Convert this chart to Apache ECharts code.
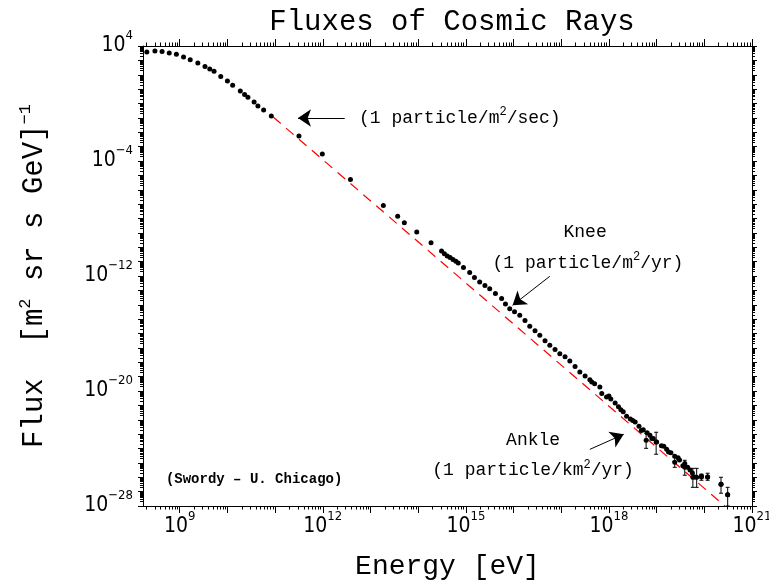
<!DOCTYPE html>
<html><head><meta charset="utf-8">
<script src="https://cdn.jsdelivr.net/npm/echarts@6/dist/echarts.min.js"></script>
<style>html,body{margin:0;padding:0;background:#fff}#c{width:769px;height:585px}</style>
</head><body><div id="c"></div>
<script>
// ---- data (log10 of energy in eV, log10 of flux in (m^2 sr s GeV)^-1) ----
const logEnergy = [8.31,8.48,8.63,8.78,8.93,9.08,9.22,9.38,9.53,9.63,9.72,9.86,10.00,10.11,10.27,10.36,10.43,10.56,10.64,10.76,10.92,
  11.50,11.99,12.58,13.27,13.57,13.71,13.97,14.27,
  14.49,14.55,14.61,14.67,14.73,14.79,14.84,14.95,15.08,15.18,15.29,15.40,15.50,15.62,15.75,15.83,15.92,16.02,16.13,16.24,16.34,16.45,16.55,16.66,16.76,16.87,16.97,17.08,17.18,17.29,17.39,17.50,17.60,17.64,17.70,17.81,17.85,17.95,18.04,18.13,18.25,18.37,18.45,18.55,18.63,18.72,18.80,18.86,18.93,19.00,19.10,19.21,19.30,19.38,19.48,19.59,19.70,19.80,19.94,20.07,20.35,20.49,
  18.00,18.20,18.30,18.50,18.68,18.90,19.15,19.25,19.45,19.55,19.65,19.75];
const logFlux = [3.58,3.65,3.61,3.51,3.42,3.24,3.05,2.82,2.57,2.40,2.24,1.87,1.57,1.27,0.87,0.62,0.43,0.10,-0.17,-0.45,-0.87,
  -2.26,-3.52,-5.29,-7.10,-7.85,-8.29,-8.94,-9.68,
  -10.26,-10.45,-10.61,-10.72,-10.86,-10.98,-11.10,-11.40,-11.76,-12.10,-12.42,-12.66,-12.88,-13.22,-13.57,-13.95,-14.27,-14.48,-14.73,-15.10,-15.50,-15.80,-16.13,-16.50,-16.82,-17.12,-17.40,-17.62,-17.91,-18.30,-18.68,-18.95,-19.21,-19.37,-19.50,-19.72,-20.18,-20.42,-20.55,-20.83,-21.30,-21.76,-21.95,-22.16,-22.45,-22.69,-22.90,-23.08,-23.30,-23.55,-23.80,-24.06,-24.30,-24.54,-24.80,-25.05,-25.50,-25.98,-25.91,-25.98,-26.49,-27.21,
  -20.35,-21.10,-21.45,-22.05,-22.75,-23.30,-23.85,-24.25,-24.65,-25.20,-25.30,-25.70];
const errEnergy = [18.78,18.99,19.38,19.59,19.76,19.84,19.94,20.07,20.35,20.49];
const errLow    = [-23.99,-24.40,-25.31,-25.86,-26.70,-26.70,-26.21,-26.21,-27.11,-28.0];
const errHigh   = [-22.94,-22.87,-24.61,-24.82,-25.38,-25.38,-25.79,-25.72,-26.00,-26.70];
const errMid    = [-23.43,-23.55,-24.96,-25.31,-26.00,-26.00,-25.98,-25.98,-26.49,-27.21];
const refLineEnergy = [10.96, 20.43];
const refLineFlux = [-0.94, -28.0];
const xLabelExps = [9, 12, 15, 18, 21];
const yLabelExps = [4, -4, -12, -20, -28];
const xRange = [8.23, 21];
const yRange = [-28, 4];

// ---- helpers ----
const SANS = "'Liberation Sans Narrow','DejaVu Sans Condensed','Liberation Sans',sans-serif";
const MONO = "'Liberation Mono','DejaVu Sans Mono',monospace";
function majors(r){const a=[];for(let n=Math.ceil(r[0]);n<=Math.floor(r[1]);n++)a.push(n);return a;}
function minors(r){const a=[];for(let n=Math.floor(r[0]);n<=Math.ceil(r[1]);n++){for(let k=2;k<=9;k++){const v=n+Math.log10(k);if(v>r[0]&&v<r[1])a.push(v);}}return a;}
const supTxt = v => v < 0 ? '\u2212' + (-v) : String(v);
const labelRich = {
  b:{fontFamily:SANS,fontSize:21,lineHeight:22,color:'#000',verticalAlign:'middle'},
  s:{fontFamily:SANS,fontSize:13,lineHeight:14,color:'#000',padding:[0,0,20,0],verticalAlign:'middle'}
};
function axisBase(extra){
  const o = Object.assign({type:'value',splitLine:{show:false},
    axisLabel:{show:false}, nameMoveOverlap:false}, extra);
  o.axisLine = Object.assign({show:true,onZero:false,lineStyle:{color:'#000',width:1}}, extra.axisLine||{});
  return o;
}
const xMaj = majors(xRange), xMin = minors(xRange), yMaj = majors(yRange), yMin = minors(yRange);
const tickStyle = {color:'#000',width:1};

const xAxes = [
  axisBase({gridIndex:0,position:'bottom',min:xRange[0],max:xRange[1],
    axisTick:{show:true,inside:false,length:7,customValues:xMaj,lineStyle:tickStyle},
    axisLabel:{show:true,customValues:xLabelExps,margin:10,formatter:v=>'{b|10}{s|'+supTxt(Math.round(v))+'}',rich:labelRich},
    name:'Energy [eV]',nameLocation:'middle',nameGap:47,
    nameTextStyle:{fontFamily:MONO,fontSize:28,color:'#000'}}),
  axisBase({gridIndex:0,position:'top',min:xRange[0],max:xRange[1],
    axisTick:{show:true,inside:false,length:7,customValues:xMaj,lineStyle:tickStyle}}),
  axisBase({gridIndex:1,position:'bottom',min:xRange[0],max:xRange[1],axisLine:{show:false},
    axisTick:{show:true,inside:false,length:3.5,customValues:xMin,lineStyle:tickStyle}}),
  axisBase({gridIndex:1,position:'top',min:xRange[0],max:xRange[1],axisLine:{show:false},
    axisTick:{show:true,inside:false,length:3.5,customValues:xMin,lineStyle:tickStyle}})
];
const yAxes = [
  axisBase({gridIndex:0,position:'left',min:yRange[0],max:yRange[1],
    axisTick:{show:true,inside:false,length:5,customValues:yMaj,lineStyle:tickStyle},
    axisLabel:{show:true,customValues:yLabelExps,margin:10,formatter:v=>'{b|10}{s|'+supTxt(Math.round(v))+'}',rich:labelRich},
    name:'{t|Flux  [m}{s|2}{t| sr s GeV]}{s|\u22121}',nameLocation:'middle',nameGap:94,
    nameTextStyle:{rich:{
      t:{fontFamily:MONO,fontSize:29,lineHeight:29,color:'#000',verticalAlign:'middle'},
      s:{fontFamily:MONO,fontSize:17,lineHeight:17,color:'#000',padding:[0,0,19,0],verticalAlign:'middle'}}}}),
  axisBase({gridIndex:0,position:'right',min:yRange[0],max:yRange[1],
    axisTick:{show:true,inside:false,length:5,customValues:yMaj,lineStyle:tickStyle}}),
  axisBase({gridIndex:1,position:'left',min:yRange[0],max:yRange[1],axisLine:{show:false},
    axisTick:{show:true,inside:false,length:3,customValues:yMin,lineStyle:tickStyle}}),
  axisBase({gridIndex:1,position:'right',min:yRange[0],max:yRange[1],axisLine:{show:false},
    axisTick:{show:true,inside:false,length:3,customValues:yMin,lineStyle:tickStyle}})
];

const points = logEnergy.map((e,i)=>[e,logFlux[i]]);
const errData = errEnergy.map((e,i)=>[e,errLow[i],errHigh[i],errMid[i]]);

const annRich = {
  t:{fontFamily:MONO,fontSize:18,lineHeight:18,color:'#000',verticalAlign:'middle'},
  s:{fontFamily:MONO,fontSize:12,lineHeight:12,color:'#000',padding:[0,0,12,0],verticalAlign:'middle'},
  w:{fontFamily:MONO,fontSize:14,fontWeight:'bold',color:'#000'}
};
const annotations = [
  {value:[12.76,-1.01],text:'{t|(1 particle/m}{s|2}{t|/sec)}',pos:'right'},
  {value:[17.50,-8.96],text:'{t|Knee}',pos:'inside'},
  {value:[17.56,-11.10],text:'{t|(1 particle/m}{s|2}{t|/yr)}',pos:'inside'},
  {value:[16.41,-23.43],text:'{t|Ankle}',pos:'inside'},
  {value:[16.41,-25.52],text:'{t|(1 particle/km}{s|2}{t|/yr)}',pos:'inside'},
  {value:[10.56,-26.14],text:'{w|(Swordy \u2013 U. Chicago)}',pos:'inside'}
];
const arrows = [
  [[12.46,-1.01],[11.48,-1.01]],
  [[16.76,-12.02],[15.98,-14.04]],
  [[17.60,-24.06],[18.31,-23.01]]
];

const chart = echarts.init(document.getElementById('c'), null, {renderer:'canvas'});
chart.setOption({
  animation:false,
  backgroundColor:'#fff',
  title:{text:'Fluxes of Cosmic Rays',left:447,top:3,textAlign:'center',
    textStyle:{fontFamily:MONO,fontSize:29,fontWeight:'normal',color:'#000'}},
  grid:[
    {left:143,right:17,top:46,bottom:79,outerBoundsMode:'none',containLabel:false},
    {left:143,right:17,top:46,bottom:79,outerBoundsMode:'none',containLabel:false}
  ],
  xAxis:xAxes,
  yAxis:yAxes,
  series:[
    {type:'line',name:'power law',xAxisIndex:0,yAxisIndex:0,data:refLineEnergy.map((e,i)=>[e,refLineFlux[i]]),
      symbol:'none',silent:true,z:1,lineStyle:{color:'#ff0000',width:1.2,type:[10,7]}},
    {type:'custom',name:'errors',xAxisIndex:0,yAxisIndex:0,data:errData,silent:true,z:2,
      renderItem:function(params,api){
        const top=api.coord([api.value(0),api.value(2)]);
        const bot=api.coord([api.value(0),api.value(1)]);
        const st={stroke:'#000',lineWidth:1};
        return {type:'group',children:[
          {type:'line',shape:{x1:top[0],y1:top[1],x2:bot[0],y2:bot[1]},style:st},
          {type:'line',shape:{x1:top[0]-2,y1:top[1],x2:top[0]+2,y2:top[1]},style:st},
          {type:'line',shape:{x1:bot[0]-2,y1:bot[1],x2:bot[0]+2,y2:bot[1]},style:st}
        ]};
      }},
    {type:'scatter',name:'flux',xAxisIndex:0,yAxisIndex:0,data:points.concat(errData.map(d=>[d[0],d[3]])),
      symbol:'circle',symbolSize:5,itemStyle:{color:'#000',opacity:1},silent:true,z:3},
    {type:'scatter',name:'notes',xAxisIndex:0,yAxisIndex:0,symbolSize:0,silent:true,z:4,
      itemStyle:{opacity:1},
      data:annotations.map(a=>({value:a.value,label:{show:true,position:a.pos,distance:0,
        formatter:a.text,rich:annRich}})),
      markLine:{silent:true,symbol:['none','arrow'],symbolSize:13,animation:false,
        lineStyle:{color:'#000',width:1,type:'solid',opacity:1},itemStyle:{color:'#000'},label:{show:false},
        data:arrows.map(a=>[{coord:a[0]},{coord:a[1]}])}}
  ]
});
</script></body></html>
